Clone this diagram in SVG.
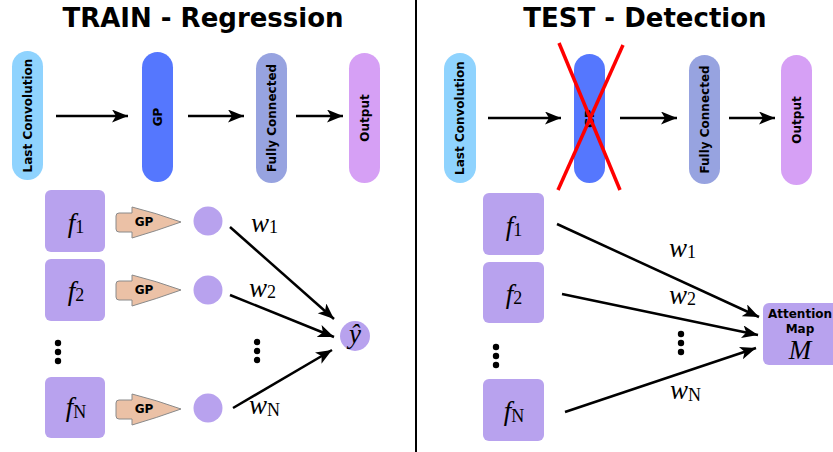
<svg xmlns="http://www.w3.org/2000/svg" width="833" height="452" viewBox="0 0 833 452">
<defs>
<marker id="ah" markerUnits="userSpaceOnUse" markerWidth="18" markerHeight="14" refX="16" refY="6.5" orient="auto">
<path d="M0,0 L16,6.5 L0,13 L4,6.5 Z" fill="#000"/>
</marker>
<path id="gparrow" d="M119,-9 L132,-9 L132,-15 Q156,-9 181,0 Q156,9 132,16 L132,10 L119,10 Q116,10 116,7 L116,-6 Q116,-9 119,-9 Z" fill="#ebc1a6" stroke="#8a8a8a" stroke-width="1"/>
</defs>
<style>
.title{font-family:"DejaVu Sans",sans-serif;font-weight:bold;font-size:26px;fill:#000}
.pl{font-family:"DejaVu Sans",sans-serif;font-weight:bold;font-size:12px;fill:#000}
.gp{font-family:"DejaVu Sans",sans-serif;font-weight:bold;font-size:12px;fill:#000}
.m{font-family:"Liberation Serif",serif;font-style:italic;font-size:27px;fill:#000}
.sub{font-style:normal;font-size:18px}
.box{fill:#b8a2ee}
.conn{stroke:#000;stroke-width:2.5;fill:none}
.dot{fill:#000}
</style>
<rect width="833" height="452" fill="#fff"/>
<line x1="416" y1="0" x2="416" y2="452" stroke="#000" stroke-width="2"/>
<text class="title" x="203" y="27" text-anchor="middle">TRAIN - Regression</text>
<text class="title" x="645" y="27" text-anchor="middle">TEST - Detection</text>

<!-- TRAIN pipeline -->
<g id="train-lastconv"><rect x="12" y="51" width="31" height="129" rx="15.5" fill="#8fd3fe"/><text class="pl" transform="translate(27.5,115.5) rotate(-90)" text-anchor="middle" dominant-baseline="central">Last Convolution</text></g>
<g id="train-gp"><rect x="142" y="52" width="31" height="130" rx="15.5" fill="#5577fe"/><text class="pl" transform="translate(157.5,117) rotate(-90)" text-anchor="middle" dominant-baseline="central">GP</text></g>
<g id="train-fc"><rect x="256" y="53" width="31" height="130" rx="15.5" fill="#97a3e0"/><text class="pl" transform="translate(271.5,118) rotate(-90)" text-anchor="middle" dominant-baseline="central">Fully Connected</text></g>
<g id="train-output"><rect x="349" y="53" width="31" height="130" rx="15.5" fill="#d6a0f5"/><text class="pl" transform="translate(364.5,118) rotate(-90)" text-anchor="middle" dominant-baseline="central">Output</text></g>

<!-- TEST pipeline -->
<g id="test-lastconv"><rect x="444" y="53" width="32" height="130" rx="16" fill="#8fd3fe"/><text class="pl" transform="translate(460,118) rotate(-90)" text-anchor="middle" dominant-baseline="central">Last Convolution</text></g>
<g id="test-gp"><rect x="574" y="54" width="31" height="129" rx="15.5" fill="#5577fe"/><text class="pl" transform="translate(589.5,118.5) rotate(-90)" text-anchor="middle" dominant-baseline="central">GP</text></g>
<g id="test-fc"><rect x="689" y="55" width="31" height="129" rx="15.5" fill="#97a3e0"/><text class="pl" transform="translate(704.5,119.5) rotate(-90)" text-anchor="middle" dominant-baseline="central">Fully Connected</text></g>
<g id="test-output"><rect x="781" y="55" width="31" height="130" rx="15.5" fill="#d6a0f5"/><text class="pl" transform="translate(796.5,120) rotate(-90)" text-anchor="middle" dominant-baseline="central">Output</text></g>
<g id="cross"><line x1="559" y1="43" x2="620" y2="190" stroke="#ff0000" stroke-width="3.5"/><line x1="623" y1="45" x2="558" y2="190" stroke="#ff0000" stroke-width="3.5"/></g>

<!-- TRAIN bottom -->
<g id="train-f1"><rect class="box" x="45" y="190" width="60" height="62" rx="6"/><text class="m" x="76" y="232" text-anchor="middle">f<tspan class="sub" dy="1">1</tspan></text></g>
<g id="train-f2"><rect class="box" x="45" y="259" width="60" height="62" rx="6"/><text class="m" x="76" y="300" text-anchor="middle">f<tspan class="sub" dy="1">2</tspan></text></g>
<g id="train-fN"><rect class="box" x="45" y="377" width="60" height="61" rx="6"/><text class="m" x="76" y="416" text-anchor="middle">f<tspan class="sub" dy="2">N</tspan></text></g>
<g id="train-dots-l"><circle class="dot" cx="58" cy="343" r="3.2"/><circle class="dot" cx="58" cy="352" r="3.2"/><circle class="dot" cx="58" cy="361" r="3.2"/></g>
<g id="gp1"><use href="#gparrow" transform="translate(0,222)"/><text class="gp" x="144" y="222" text-anchor="middle" dominant-baseline="central">GP</text></g>
<g id="gp2"><use href="#gparrow" transform="translate(0,290)"/><text class="gp" x="144" y="290" text-anchor="middle" dominant-baseline="central">GP</text></g>
<g id="gpN"><use href="#gparrow" transform="translate(0,409)"/><text class="gp" x="144" y="409" text-anchor="middle" dominant-baseline="central">GP</text></g>
<g id="c1"><circle class="box" cx="208" cy="221" r="14.5"/></g>
<g id="c2"><circle class="box" cx="208" cy="290" r="14.5"/></g>
<g id="cN"><circle class="box" cx="208" cy="408" r="14.5"/></g>
<g id="train-dots-r"><circle class="dot" cx="257" cy="342" r="3.2"/><circle class="dot" cx="257" cy="351" r="3.2"/><circle class="dot" cx="257" cy="360" r="3.2"/></g>
<g id="yhat"><circle class="box" cx="355" cy="336" r="15"/><text class="m" x="355" y="343" text-anchor="middle" font-size="23">ŷ</text></g>
<text class="m" x="251" y="232">w<tspan class="sub" dy="1">1</tspan></text>
<text class="m" x="249" y="297">w<tspan class="sub" dy="1">2</tspan></text>
<text class="m" x="249" y="414">w<tspan class="sub" dy="2">N</tspan></text>

<!-- TEST bottom -->
<g id="test-f1"><rect class="box" x="483" y="193" width="61" height="62" rx="6"/><text class="m" x="514" y="235" text-anchor="middle">f<tspan class="sub" dy="1">1</tspan></text></g>
<g id="test-f2"><rect class="box" x="483" y="262" width="61" height="61" rx="6"/><text class="m" x="514" y="303" text-anchor="middle">f<tspan class="sub" dy="1">2</tspan></text></g>
<g id="test-fN"><rect class="box" x="483" y="379" width="61" height="62" rx="6"/><text class="m" x="514" y="420" text-anchor="middle">f<tspan class="sub" dy="2">N</tspan></text></g>
<g id="test-dots-l"><circle class="dot" cx="496" cy="347" r="3.2"/><circle class="dot" cx="496" cy="356" r="3.2"/><circle class="dot" cx="496" cy="365" r="3.2"/></g>
<g id="test-dots-r"><circle class="dot" cx="681" cy="334" r="3.2"/><circle class="dot" cx="681" cy="343" r="3.2"/><circle class="dot" cx="681" cy="352" r="3.2"/></g>
<g id="attention"><rect class="box" x="763" y="303" width="76" height="62" rx="6"/><text class="gp" x="800" y="318" text-anchor="middle" font-size="10.5">Attention</text><text class="gp" x="800" y="333" text-anchor="middle" font-size="10.5">Map</text><text class="m" x="800" y="359" text-anchor="middle">M</text></g>
<text class="m" x="669" y="257">w<tspan class="sub" dy="1">1</tspan></text>
<text class="m" x="669" y="304">w<tspan class="sub" dy="1">2</tspan></text>
<text class="m" x="670" y="399">w<tspan class="sub" dy="2">N</tspan></text>

<g id="connectors">
<line class="conn" x1="56" y1="116" x2="128" y2="116" marker-end="url(#ah)"/>
<line class="conn" x1="188" y1="116" x2="244" y2="116" marker-end="url(#ah)"/>
<line class="conn" x1="296" y1="116" x2="343" y2="116" marker-end="url(#ah)"/>
<line class="conn" x1="488" y1="118" x2="561" y2="118" marker-end="url(#ah)"/>
<line class="conn" x1="620" y1="118" x2="677" y2="118" marker-end="url(#ah)"/>
<line class="conn" x1="729" y1="118" x2="775" y2="118" marker-end="url(#ah)"/>
<line class="conn" x1="230" y1="227" x2="334" y2="319" marker-end="url(#ah)"/>
<line class="conn" x1="230" y1="295" x2="334" y2="337" marker-end="url(#ah)"/>
<line class="conn" x1="233" y1="408" x2="332" y2="350" marker-end="url(#ah)"/>
<line class="conn" x1="557" y1="224" x2="759" y2="317" marker-end="url(#ah)"/>
<line class="conn" x1="562" y1="294" x2="758" y2="335" marker-end="url(#ah)"/>
<line class="conn" x1="565" y1="412" x2="756" y2="348" marker-end="url(#ah)"/>
</g>
</svg>
